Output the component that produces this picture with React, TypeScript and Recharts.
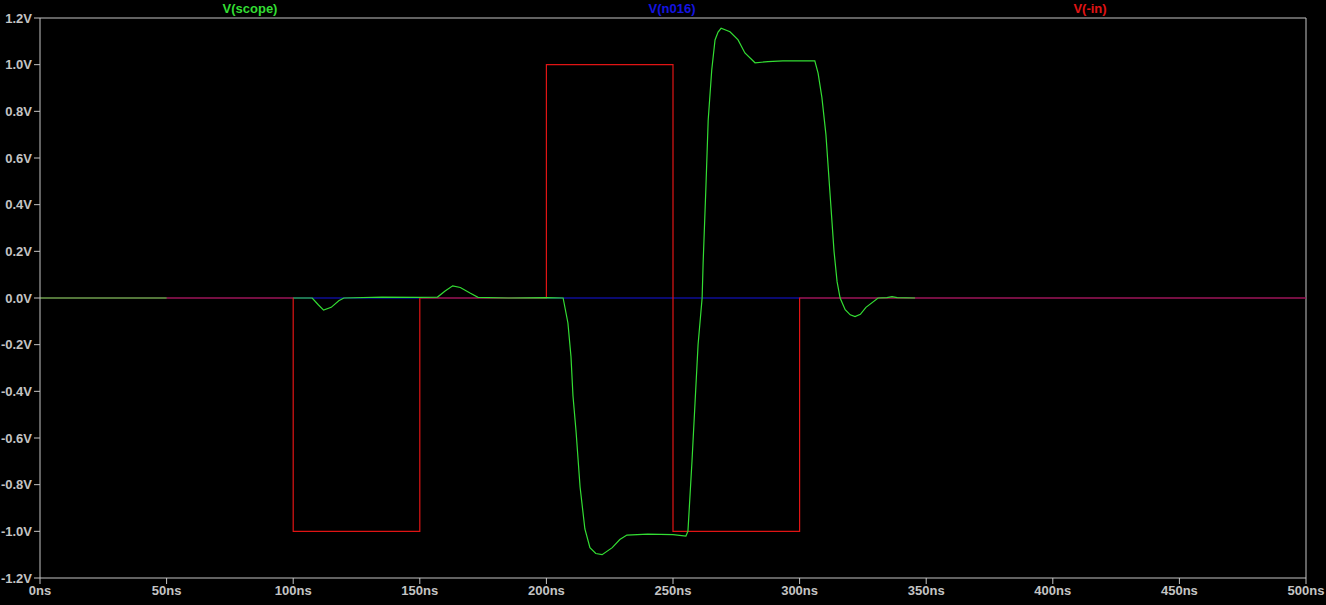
import { LineChart, Line, XAxis, YAxis, ReferenceLine } from "recharts";

// time in ns, value in V
const inTimes = [0, 100, 100, 150, 150, 200, 200, 250, 250, 300, 300, 500];
const inValues = [0, 0, -1, -1, 0, 0, 1, 1, -1, -1, 0, 0];

const n016Times = [0, 500];
const n016Values = [0, 0];

const scopeTimes = [
  0, 50, 75, 100, 107.5, 110, 112, 115, 118, 120, 135, 150, 157, 160, 163, 166, 170, 173, 185, 200, 206.6,
  208.5, 209.7, 210.5, 211.7, 213.3, 215.2, 217.2, 219.5, 222, 226, 229, 231.8, 240, 250, 255.1, 255.9, 257.5,
  258.7, 259.9, 261.5, 261.9, 263, 263.9, 265.3, 266.6, 267.8, 269, 272.5, 275.7, 278.4, 282.4, 287.5, 293.4,
  306, 307.3, 308.8, 310.4, 312, 313.6, 314.8, 316, 318, 320, 321.9, 324, 326.2, 331, 334.5, 336.5, 338.5, 345.6,
];
const scopeValues = [
  0, 0, null, 0, 0, -0.03, -0.052, -0.04, -0.012, 0, 0.004, 0.003, 0.004, 0.03, 0.052, 0.045, 0.02, 0.003, 0, 0.002, 0,
  -0.107, -0.25, -0.42, -0.57, -0.81, -0.99, -1.07, -1.095, -1.1, -1.07, -1.035, -1.016, -1.012, -1.014, -1.02, -1.0,
  -0.7, -0.45, -0.2, 0, 0.15, 0.476, 0.763, 0.977, 1.106, 1.14, 1.156, 1.141, 1.106, 1.05, 1.008, 1.013, 1.016,
  1.016, 0.964, 0.86, 0.7, 0.45, 0.2, 0.07, 0, -0.05, -0.072, -0.08, -0.07, -0.04, 0, 0.002, 0.006, 0.002, 0,
];

const xTicks = [0, 50, 100, 150, 200, 250, 300, 350, 400, 450, 500];
const yTicks = [-1.2, -1.0, -0.8, -0.6, -0.4, -0.2, 0, 0.2, 0.4, 0.6, 0.8, 1.0, 1.2];

const inData = inTimes.map((t, i) => ({ t, v: inValues[i] }));
const n016Data = n016Times.map((t, i) => ({ t, v: n016Values[i] }));
const scopeData = scopeTimes.map((t, i) => ({ t, v: scopeValues[i] }));

const GREY = "#c4c4c4";
const GREEN = "#33dd33";
const BLUE = "#1414e0";
const RED = "#e01414";

const tickStyle = { fill: GREY, fontSize: 13, fontWeight: 700, fontFamily: "Liberation Sans, Arial, sans-serif" };

export default function App() {
  return (
    <div style={{ position: "relative", width: 1326, height: 605, background: "#000" }}>
      <style>{"body{margin:0;background:#000}"}</style>
      <LineChart
        width={1326}
        height={605}
        margin={{ top: 18, right: 20, left: 0, bottom: 0 }}
      >
        <XAxis
          dataKey="t"
          type="number"
          domain={[0, 500]}
          ticks={xTicks}
          allowDuplicatedCategory={false}
          height={27}
          tickSize={6}
          stroke={GREY}
          tick={tickStyle}
          tickFormatter={(v) => `${v}ns`}
        />
        <YAxis
          type="number"
          domain={[-1.2, 1.2]}
          ticks={yTicks}
          width={40}
          tickSize={6}
          stroke={GREY}
          tick={tickStyle}
          tickFormatter={(v) => `${Number(v).toFixed(1)}V`}
        />
        <ReferenceLine y={1.2} stroke={GREY} />
        <ReferenceLine x={500} stroke={GREY} />
        <Line data={n016Data} dataKey="v" stroke={BLUE} strokeWidth={1.2} dot={false} isAnimationActive={false} />
        <Line data={inData} dataKey="v" stroke={RED} strokeWidth={1.2} dot={false} isAnimationActive={false} />
        <Line
          data={scopeData}
          dataKey="v"
          stroke={GREEN}
          strokeWidth={1.2}
          dot={false}
          connectNulls={false}
          isAnimationActive={false}
        />
      </LineChart>
      {[
        { name: "V(scope)", color: GREEN, x: 250 },
        { name: "V(n016)", color: BLUE, x: 672 },
        { name: "V(-in)", color: RED, x: 1090 },
      ].map((s) => (
        <div
          key={s.name}
          style={{
            position: "absolute",
            top: 1,
            left: s.x - 60,
            width: 120,
            textAlign: "center",
            color: s.color,
            fontSize: 13,
            fontWeight: 700,
            fontFamily: "Liberation Sans, Arial, sans-serif",
          }}
        >
          {s.name}
        </div>
      ))}
    </div>
  );
}
